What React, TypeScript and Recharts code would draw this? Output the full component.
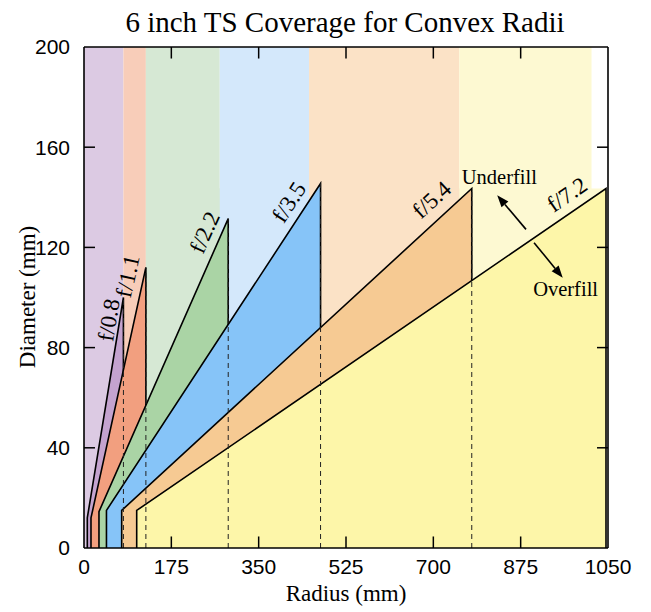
import { ComposedChart, Area, XAxis, YAxis, ReferenceLine, ReferenceDot } from 'recharts';

const RADIUS_TICKS = [0, 175, 350, 525, 700, 875, 1050];
const DIAMETER_TICKS = [0, 40, 80, 120, 160, 200];

// f-number coverage wedges
const F_LABELS = ['f/0.8', 'f/1.1', 'f/2.2', 'f/3.5', 'f/5.4', 'f/7.2'];
const START_R = [6.6, 14, 30, 45, 75.5, 105.6];
const START_D = [12, 12, 14.5, 15, 15, 15];
const END_R = [79, 124, 289, 474, 777, 1046];
const END_D = [100, 112, 131.5, 145.5, 143.5, 143.5];
const FILL_COLORS = ['#c4a3cf', '#f29f7f', '#aad4a5', '#86c4f8', '#f6ca93', '#fdf6a9'];

// light background bands behind each wedge
const BAND_START = [0, 79, 124, 272, 451, 752];
const BAND_TOP_END = [79, 124, 272, 451, 752, 1017];
const BAND_STEP_D = [200, 200, 143.6, 145.5, 143.5, 143.5];
const BAND_STEP_END = [79, 124, 289, 474, 777, 1046];
const BAND_COLORS = ['#dccae3', '#f8cdb9', '#d6e8d4', '#d4e8fb', '#fbe2c6', '#fdf9d2'];

// annotation positions (data units)
const LABEL_R = [50, 88, 242, 411, 697, 968];
const LABEL_D = [91, 108.5, 126, 138, 139, 141];
const LABEL_ANGLE = [81, 77.5, 66, 57, 42.5, 34.5];

const NOTE_TEXT = ['Underfill', 'Overfill'];
const NOTE_R = [757, 900];
const NOTE_D = [148, 103.5];

const ARROW_FROM_R = [885.7, 901.8];
const ARROW_FROM_D = [127.2, 121.9];
const ARROW_TO_R = [828, 959.3];
const ARROW_TO_D = [140.8, 107.9];

const SERIF = '"Liberation Serif", "Times New Roman", serif';
const SANS = '"Liberation Sans", Arial, sans-serif';

const X_TICK_LEN = 22;
const Y_TICK_LEN = 4.6;

const wedges = F_LABELS.map((name, i) => ({
  name,
  points: [
    { r: START_R[i], d: 0 },
    { r: START_R[i], d: START_D[i] },
    { r: END_R[i], d: END_D[i] },
    { r: END_R[i], d: 0 },
  ],
}));

const bands = BAND_START.map((start, i) => ({
  points: [
    { r: start, d: 200 },
    { r: BAND_TOP_END[i], d: 200 },
    { r: BAND_TOP_END[i], d: BAND_STEP_D[i] },
    { r: BAND_STEP_END[i], d: BAND_STEP_D[i] },
    { r: BAND_STEP_END[i], d: 0 },
  ],
}));

const Arrow = (props: any) => {
  const { x1, y1, x2, y2 } = props;
  const a = Math.atan2(y2 - y1, x2 - x1);
  const len = 12;
  const half = 4.5;
  const bx = x2 - len * Math.cos(a);
  const by = y2 - len * Math.sin(a);
  const px = -Math.sin(a) * half;
  const py = Math.cos(a) * half;
  return (
    <g>
      <line x1={x1} y1={y1} x2={bx} y2={by} stroke="#000" strokeWidth={1.6} />
      <polygon points={`${x2},${y2} ${bx + px},${by + py} ${bx - px},${by - py}`} fill="#000" />
    </g>
  );
};

export default function App() {
  return (
    <div style={{ position: 'absolute', left: 0, top: 0, width: 651, height: 612, background: '#fff' }}>
      <ComposedChart width={651} height={612} margin={{ top: 47, right: 43, bottom: 24, left: 24 }}>
        {bands.map((b, i) => (
          <Area
            key={`band-${i}`}
            data={b.points}
            dataKey="d"
            type="linear"
            stroke="none"
            fill={BAND_COLORS[i]}
            fillOpacity={1}
            isAnimationActive={false}
            dot={false}
            activeDot={false}
          />
        ))}
        {wedges.map((w, i) => (
          <Area
            key={w.name}
            data={w.points}
            dataKey="d"
            type="linear"
            stroke="#000"
            strokeWidth={1.6}
            fill={FILL_COLORS[i]}
            fillOpacity={1}
            isAnimationActive={false}
            dot={false}
            activeDot={false}
          />
        ))}
        {END_R.slice(0, -1).map((r, i) => (
          <ReferenceLine
            key={`dash-${i}`}
            segment={[{ x: r, y: 0 }, { x: r, y: END_D[i] }]}
            stroke="#222"
            strokeWidth={1}
            strokeDasharray="5 4"
          />
        ))}
        {F_LABELS.map((t, i) => (
          <ReferenceDot
            key={`lab-${t}`}
            x={LABEL_R[i]}
            y={LABEL_D[i]}
            r={0}
            shape={(p: any) => (
              <text
                x={p.cx}
                y={p.cy}
                transform={`rotate(${-LABEL_ANGLE[i]} ${p.cx} ${p.cy})`}
                textAnchor="middle"
                dominantBaseline="central"
                fontFamily={SERIF}
                fontSize={23}
                fill="#000"
              >
                {t}
              </text>
            )}
          />
        ))}
        {NOTE_TEXT.map((t, i) => (
          <ReferenceDot
            key={`note-${t}`}
            x={NOTE_R[i]}
            y={NOTE_D[i]}
            r={0}
            shape={(p: any) => (
              <text
                x={p.cx}
                y={p.cy}
                textAnchor="start"
                dominantBaseline="central"
                fontFamily={SERIF}
                fontSize={20.5}
                fill="#000"
              >
                {t}
              </text>
            )}
          />
        ))}
        {ARROW_FROM_R.map((r, i) => (
          <ReferenceLine
            key={`arrow-${i}`}
            segment={[{ x: r, y: ARROW_FROM_D[i] }, { x: ARROW_TO_R[i], y: ARROW_TO_D[i] }]}
            shape={Arrow}
          />
        ))}
        {RADIUS_TICKS.slice(1, -1).map((v) => (
          <ReferenceLine key={`xb-${v}`} segment={[{ x: v, y: 0 }, { x: v, y: Y_TICK_LEN }]} stroke="#000" strokeWidth={1.5} />
        ))}
        {RADIUS_TICKS.slice(1, -1).map((v) => (
          <ReferenceLine key={`xt-${v}`} segment={[{ x: v, y: 200 }, { x: v, y: 200 - Y_TICK_LEN }]} stroke="#000" strokeWidth={1.5} />
        ))}
        {DIAMETER_TICKS.slice(1, -1).map((v) => (
          <ReferenceLine key={`yl-${v}`} segment={[{ x: 0, y: v }, { x: X_TICK_LEN, y: v }]} stroke="#000" strokeWidth={1.5} />
        ))}
        {DIAMETER_TICKS.slice(1, -1).map((v) => (
          <ReferenceLine key={`yr-${v}`} segment={[{ x: 1050, y: v }, { x: 1050 - X_TICK_LEN, y: v }]} stroke="#000" strokeWidth={1.5} />
        ))}
        <ReferenceLine y={200} stroke="#000" strokeWidth={1.6} />
        <ReferenceLine x={1050} stroke="#000" strokeWidth={1.6} />
        <XAxis
          dataKey="r"
          type="number"
          domain={[0, 1050]}
          ticks={RADIUS_TICKS}
          interval={0}
          allowDataOverflow
          height={40}
          tickLine={false}
          tickMargin={5}
          axisLine={{ stroke: '#000', strokeWidth: 1.6 }}
          tick={{ fill: '#000', fontSize: 21, fontFamily: SANS }}
        />
        <YAxis
          dataKey="d"
          type="number"
          domain={[0, 200]}
          ticks={DIAMETER_TICKS}
          interval={0}
          allowDataOverflow
          width={60}
          tickLine={false}
          tickMargin={8}
          axisLine={{ stroke: '#000', strokeWidth: 1.6 }}
          tick={{ fill: '#000', fontSize: 21, fontFamily: SANS }}
        />
      </ComposedChart>
      <svg
        width={651}
        height={612}
        style={{ position: 'absolute', left: 0, top: 0, pointerEvents: 'none' }}
      >
        <text x={345} y={32} textAnchor="middle" fontFamily={SERIF} fontSize={29} fill="#000">
          6 inch TS Coverage for Convex Radii
        </text>
        <text x={346} y={601} textAnchor="middle" fontFamily={SERIF} fontSize={23} fill="#000">
          Radius (mm)
        </text>
        <text
          x={35}
          y={297}
          transform="rotate(-90 35 297)"
          textAnchor="middle"
          fontFamily={SERIF}
          fontSize={23}
          fill="#000"
        >
          Diameter (mm)
        </text>
      </svg>
    </div>
  );
}
